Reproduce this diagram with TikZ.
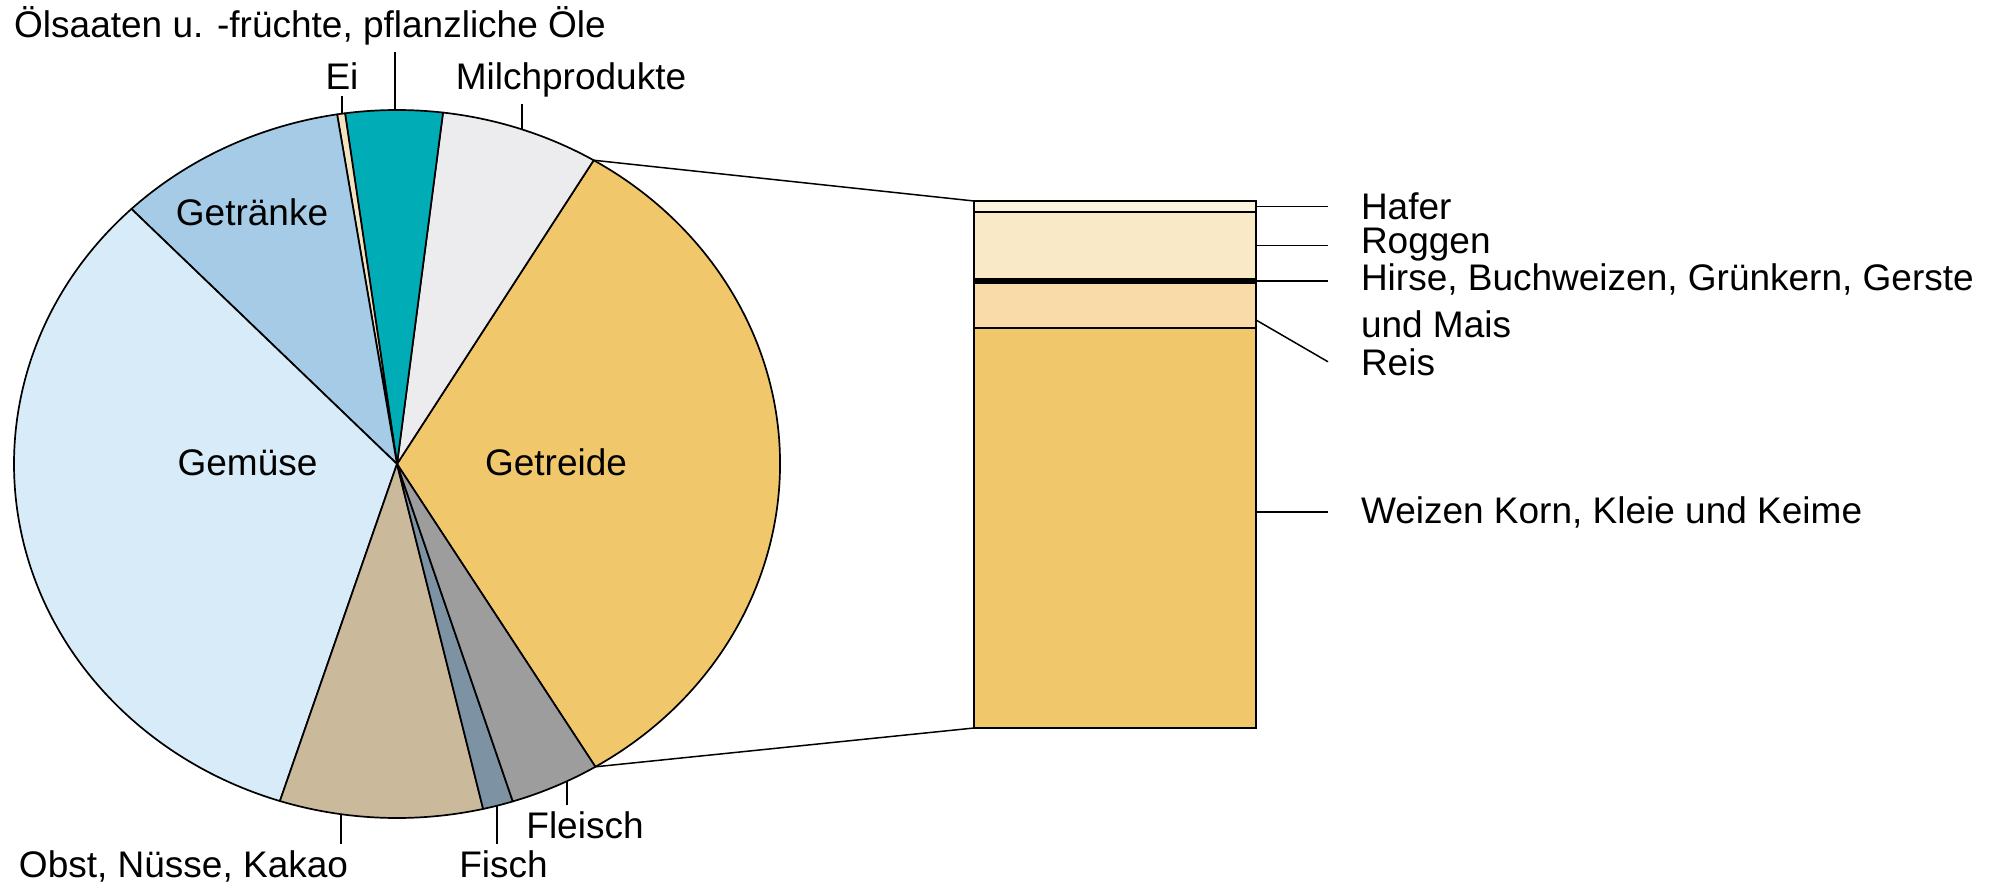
\documentclass[tikz,border=0pt]{standalone}
\usepackage{fontspec}
\setmainfont{Liberation Sans}
\usetikzlibrary{positioning}
\definecolor{getreide}{HTML}{F1C76B}
\definecolor{milch}{HTML}{ECECEE}
\definecolor{oel}{HTML}{00ADB7}
\definecolor{ei}{HTML}{F3E3C1}
\definecolor{getraenke}{HTML}{A5CBE7}
\definecolor{gemuese}{HTML}{D7ECF8}
\definecolor{obst}{HTML}{CBB99B}
\definecolor{fisch}{HTML}{7D93A3}
\definecolor{fleisch}{HTML}{9D9D9E}
\definecolor{hafer}{HTML}{FCF3DF}
\definecolor{roggen}{HTML}{F9E9C7}
\definecolor{reis}{HTML}{F8DBA8}

\begin{document}
\begin{tikzpicture}[x=0.5pt, y=0.5pt,
    tajada/.style={draw=black, line width=0.85pt, line join=round, x radius=191.5pt, y radius=177pt},
    etiqueta/.style={font=\fontsize{18.5}{23.5}\selectfont, inner sep=3pt},
    rechts/.style={etiqueta, anchor=base west, outer sep=13.5pt},
    barra/.style={draw=black, line width=0.85pt, minimum width=141pt, inner sep=0pt, outer sep=0pt},
    linea/.style={line width=0.75pt}]
        \useasboundingbox (0,0) rectangle (2016,885);
        % Centro del pastel
        \coordinate (c) at (397,421);
        % Tajadas
        \draw[tajada, fill=getreide] (c) -- ++(-58.8:191.5pt and 177pt) coordinate (gu) arc[start angle=-58.8, end angle=59.1] coordinate (go) -- cycle;
        \draw[tajada, fill=milch] (c) -- (go) arc[start angle=59.1, end angle=83.1] -- cycle;
        \draw[tajada, fill=oel] (c) -- ++(83.1:191.5pt and 177pt) arc[start angle=83.1, end angle=97.8] -- cycle;
        \draw[tajada, fill=ei] (c) -- ++(97.8:191.5pt and 177pt) arc[start angle=97.8, end angle=99] -- cycle;
        \draw[tajada, fill=getraenke] (c) -- ++(99:191.5pt and 177pt) arc[start angle=99, end angle=133.9] -- cycle;
        \draw[tajada, fill=gemuese] (c) -- ++(133.9:191.5pt and 177pt) arc[start angle=133.9, end angle=252.2] -- cycle;
        \draw[tajada, fill=obst] (c) -- ++(252.2:191.5pt and 177pt) arc[start angle=252.2, end angle=283] -- cycle;
        \draw[tajada, fill=fisch] (c) -- ++(283:191.5pt and 177pt) arc[start angle=283, end angle=287.6] -- cycle;
        \draw[tajada, fill=fleisch] (c) -- ++(287.6:191.5pt and 177pt) arc[start angle=287.6, end angle=301.2] -- (gu) -- cycle;
        % Textos dentro del pastel
        \node[etiqueta, anchor=base] (getraenket) at (252,659) {Getränke};
        \node[etiqueta, anchor=base] (gemueset) at (247.5,410) {Gemüse};
        \node[etiqueta, anchor=base] (getreidet) at (556,410) {Getreide};
        % Textos fuera del pastel
        \node[etiqueta, anchor=base] (titel) at (310,847) {Ölsaaten u. -früchte, pflanzliche Öle};
        \node[etiqueta, anchor=base] (eit) at (342,795) {Ei};
        \node[etiqueta, anchor=base] (milcht) at (571,795) {Milchprodukte};
        \node[etiqueta, anchor=base] (obstt) at (183.5,8) {Obst, Nüsse, Kakao};
        \node[etiqueta, anchor=base] (fischt) at (503.5,8) {Fisch};
        \node[etiqueta, anchor=base] (fleischt) at (585,47) {Fleisch};
        % Puntos en el borde
        \coordinate (olp) at (395,775);
        \coordinate (eip) at (342,771.3);
        \coordinate (milchp) at (522,755.6);
        \coordinate (obstp) at (341,70.8);
        \coordinate (fischp) at (497,79.3);
        \coordinate (fleischp) at (567,103.8);
        % Lineas de referencia
        \draw[linea] (olp) -- (olp |- titel.south);
        \draw[linea] (eip) -- (eip |- eit.south);
        \draw[linea] (milchp) -- (milchp |- milcht.south);
        \draw[linea] (obstp) -- (obstp |- obstt.north);
        \draw[linea] (fischp) -- (fischp |- fischt.north);
        \draw[linea] (fleischp) -- (fleischp |- fleischt.north);
        % Columna de cereales
        \node[barra, fill=hafer, minimum height=5.5pt, anchor=north west] (hafer) at (974,684) {};
        \node[barra, fill=roggen, minimum height=33.5pt, below=0pt of hafer] (roggen) {};
        \node[barra, fill=black, minimum height=2pt, below=0pt of roggen] (hirse) {};
        \node[barra, fill=reis, minimum height=22.5pt, below=0pt of hirse] (reis) {};
        \node[barra, fill=getreide, minimum height=200pt, below=0pt of reis] (weizen) {};
        % Union pastel - columna
        \draw[linea] (go) -- (hafer.north west);
        \draw[linea] (gu) -- (weizen.south west);
        % Textos de la columna
        \node[rechts] (hafert) at (1328,665) {Hafer};
        \node[rechts] (roggent) at (1328,631) {Roggen};
        \node[rechts, align=left] (hirset) at (1328,548) {Hirse, Buchweizen, Grünkern, Gerste\\und Mais};
        \node[rechts] (reist) at (1328,510) {Reis};
        \node[rechts] (weizent) at (1328,362) {Weizen Korn, Kleie und Keime};
        \draw[linea] (hafer.east) -- (hafer.east -| hafert.west);
        \draw[linea] (roggen.east) -- (roggen.east -| roggent.west);
        \draw[linea] (hirse.east) -- (hirse.east -| hirset.west);
        \draw[linea] ([yshift=4pt]reis.south east) -- (reist.west);
        \draw[linea] (weizent.west -| weizen.east) -- (weizent.west);
    \end{tikzpicture}
\end{document}
